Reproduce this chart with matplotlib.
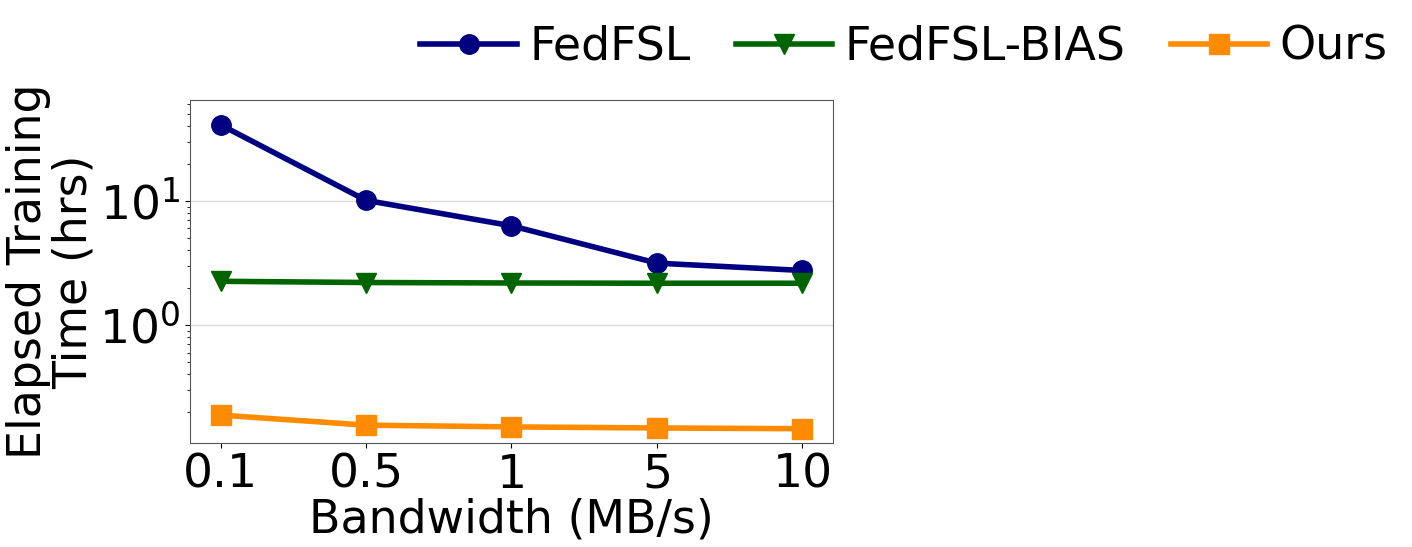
import numpy as np
import matplotlib
matplotlib.use("Agg")
import matplotlib.pyplot as plt

bandwidth = ["0.1", "0.5", "1", "5", "10"]
fedfsl = [41, 10.1, 6.3, 3.15, 2.75]
fedfsl_bias = [2.25, 2.2, 2.18, 2.17, 2.17]
ours = [0.188, 0.156, 0.151, 0.148, 0.146]

plt.rcParams["font.size"] = 33

fig = plt.figure(figsize=(14.12, 5.47), dpi=100)
ax = fig.add_axes([190/1412, 1-443/547, (833-190)/1412, (443-100)/547])

x = np.arange(len(bandwidth))
ax.plot(x, fedfsl, color="navy", marker="o", lw=4, markersize=14, label="FedFSL")
ax.plot(x, fedfsl_bias, color="darkgreen", marker="v", lw=4, markersize=14, label="FedFSL-BIAS")
ax.plot(x, ours, color="darkorange", marker="s", lw=4, markersize=14, label="Ours")

ax.set_yscale("log")
ax.set_ylim(0.112, 65)
ax.set_xlim(-0.21, 4.21)
ax.set_xticks(x)
ax.set_xticklabels(bandwidth)
ax.yaxis.grid(True, which="major", color="#dddddd", lw=1)
ax.set_axisbelow(True)
for s in ax.spines.values():
    s.set_color("#555555")
ax.tick_params(colors="black", labelsize=34)
ax.set_xlabel("Bandwidth (MB/s)", labelpad=0)
ax.set_ylabel("Elapsed Training\nTime (hrs)", labelpad=2, linespacing=1.0)

fig.legend(loc="upper right", bbox_to_anchor=(1.012, 1.03), ncol=3, frameon=False,
           fontsize=33, handlelength=2.1, columnspacing=0.98, handletextpad=0.28)

fig.savefig("out.png", dpi=100)
